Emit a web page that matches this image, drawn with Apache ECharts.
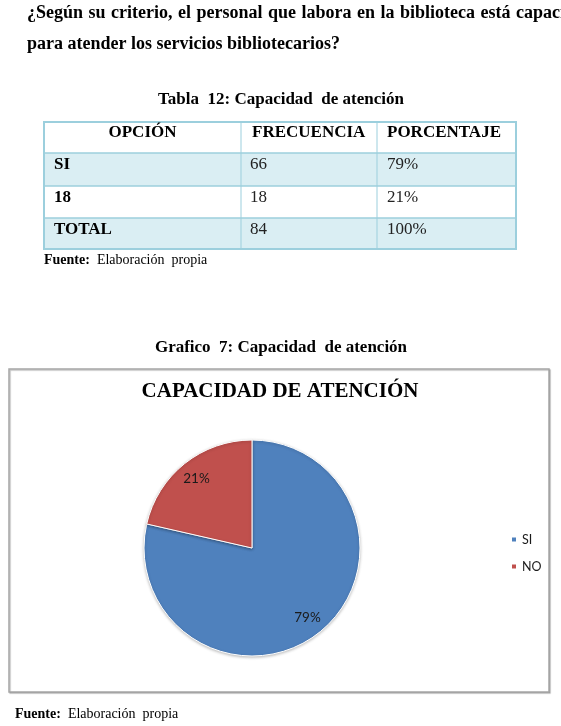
<!DOCTYPE html>
<html><head><meta charset="utf-8">
<script src="https://cdn.jsdelivr.net/npm/echarts@6/dist/echarts.min.js"></script>
<style>html,body{margin:0;padding:0;background:#fff}#c{width:561px;height:726px}</style>
</head><body><div id="c"></div>
<script>
// ---- data ----
const questionLine1 = ['¿Según','su','criterio,','el','personal','que','labora','en','la','biblioteca','está','capacitado'];
const questionLine2 = 'para atender los servicios bibliotecarios?';
const tableCaption = 'Tabla  12: Capacidad  de atención';
const tableHeaders = ['OPCIÓN','FRECUENCIA','PORCENTAJE'];
const tableOptions = ['SI','18','TOTAL'];
const tableFrequencies = [66, 18, 84];
const tablePercentages = ['79%','21%','100%'];
const chartCaption = 'Grafico  7: Capacidad  de atención';
const chartTitle = 'CAPACIDAD DE ATENCIÓN';
const pieCategories = ['SI','NO'];
const pieValues = [66, 18];
const pieColors = ['#4F81BD','#C0504D'];
const sourceLabel = 'Fuente:';
const sourceText = 'Elaboración  propia';

// ---- layout ----
const SERIF = '"Liberation Serif","Times New Roman",serif';
const SANS = 'Lato,"Open Sans",sans-serif';
const g = [];
function txt(text, x, y, size, weight, align, extra) {
  g.push(Object.assign({
    type: 'text', x: x, y: y, silent: true,
    style: { text: text, fontSize: size, fontFamily: SERIF, fontWeight: weight || 'normal',
      fill: '#000', align: align || 'left', verticalAlign: 'middle' }
  }, extra || {}));
}
// justified first line
const ctx = document.createElement('canvas').getContext('2d');
ctx.font = 'bold 18px "Liberation Serif"';
const widths = questionLine1.map(w => ctx.measureText(w).width);
const startX = 27;
const lastStart = 560 - ctx.measureText('capac').width;
let sumW = 0; for (let i = 0; i < widths.length - 1; i++) sumW += widths[i];
const gap = (lastStart - startX - sumW) / (questionLine1.length - 1);
let cx = startX;
questionLine1.forEach((w, i) => { txt(w, cx, 13, 18, 'bold'); cx += widths[i] + gap; });
txt(questionLine2, 27, 44, 18, 'bold');
txt(tableCaption, 281, 100, 17, 'bold', 'center');

// table
const tX = [44, 241, 377, 516];
const tY = [122, 153, 186, 218, 249];
const fills = ['#ffffff', '#DAEEF3', '#ffffff', '#DAEEF3'];
for (let r = 0; r < 4; r++) {
  g.push({ type: 'rect', silent: true, shape: { x: tX[0], y: tY[r], width: tX[3] - tX[0], height: tY[r+1] - tY[r] }, style: { fill: fills[r] } });
}
const lineC = '#9CCFDD';
for (let r = 1; r < 4; r++) g.push({ type: 'line', silent: true, shape: { x1: tX[0], y1: tY[r], x2: tX[3], y2: tY[r] }, style: { stroke: lineC, lineWidth: 1.5 } });
for (let c = 1; c < 3; c++) g.push({ type: 'line', silent: true, shape: { x1: tX[c], y1: tY[0], x2: tX[c], y2: tY[4] }, style: { stroke: lineC, lineWidth: 1 } });
g.push({ type: 'rect', silent: true, shape: { x: tX[0], y: tY[0], width: tX[3] - tX[0], height: tY[4] - tY[0] }, style: { fill: 'none', stroke: lineC, lineWidth: 2 } });
txt(tableHeaders[0], (tX[0] + tX[1]) / 2, tY[0] + 11, 17, 'bold', 'center');
txt(tableHeaders[1], tX[1] + 11, tY[0] + 11, 17, 'bold');
txt(tableHeaders[2], tX[2] + 10, tY[0] + 11, 17, 'bold');
for (let r = 0; r < 3; r++) {
  const y = tY[r + 1] + 12;
  txt(tableOptions[r], tX[0] + 10, y, 17, 'bold');
  txt(String(tableFrequencies[r]), tX[1] + 9, y, 17, 'normal', 'left', { style: { text: String(tableFrequencies[r]), fontSize: 17, fontFamily: SERIF, fill: '#222', verticalAlign: 'middle' } });
  txt(tablePercentages[r], tX[2] + 10, y, 17, 'normal', 'left', { style: { text: tablePercentages[r], fontSize: 17, fontFamily: SERIF, fill: '#222', verticalAlign: 'middle' } });
}
function source(x, y) {
  g.push({ type: 'text', x: x, y: y, silent: true,
    style: { text: '{b|' + sourceLabel + '}  ' + sourceText, fontSize: 14, fontFamily: SERIF, fill: '#000', verticalAlign: 'middle',
      rich: { b: { fontWeight: 'bold', fontSize: 14, fontFamily: SERIF, fill: '#000' } } } });
}
source(44, 260);
txt(chartCaption, 281, 348, 17, 'bold', 'center');
// chart box
g.push({ type: 'rect', silent: true, z: -1, shape: { x: 9, y: 369, width: 540, height: 323 },
  style: { fill: '#fff', stroke: '#A6A6A6', lineWidth: 1.5, shadowColor: 'rgba(0,0,0,0.25)', shadowOffsetX: 1, shadowOffsetY: 1, shadowBlur: 1 } });
txt(chartTitle, 280, 392, 21, 'bold', 'center');
source(15, 714);

const chart = echarts.init(document.getElementById('c'), null, { renderer: 'canvas' });
chart.setOption({
  backgroundColor: '#fff',
  animation: false,
  graphic: g,
  legend: {
    orient: 'vertical', left: 505, top: 528,
    itemWidth: 6, itemHeight: 6, itemGap: 14, icon: 'rect',
    textStyle: { fontFamily: SANS, fontSize: 12.5, color: '#1a1a1a' },
    data: pieCategories.map((n, i) => ({ name: n, itemStyle: { color: pieColors[i] } }))
  },
  series: [
    {
      type: 'pie', center: [252, 548], radius: 108, startAngle: 90, clockwise: true,
      silent: true, label: { show: false }, labelLine: { show: false },
      itemStyle: { borderColor: '#fff', borderWidth: 1, shadowColor: 'rgba(0,0,0,0.25)', shadowBlur: 3, shadowOffsetX: 0, shadowOffsetY: 1 },
      data: pieCategories.map((n, i) => ({ name: n, value: pieValues[i], itemStyle: { color: pieColors[i] } }))
    },
    {
      type: 'pie', center: [252, 548], radius: [62, 110], startAngle: 90, clockwise: true,
      silent: true, percentPrecision: 0,
      itemStyle: { color: 'rgba(0,0,0,0)', borderWidth: 0 },
      label: { show: true, position: 'inside', formatter: '{d}%', fontFamily: SANS, fontSize: 13.5, color: '#1a1a1a' },
      labelLine: { show: false },
      data: pieCategories.map((n, i) => ({ name: n, value: pieValues[i] }))
    }
  ]
});
</script></body></html>
